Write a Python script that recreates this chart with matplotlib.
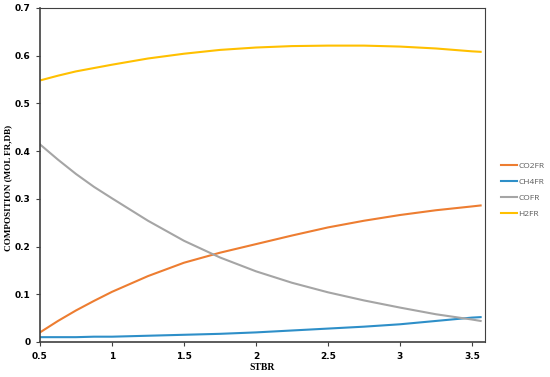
import matplotlib

matplotlib.use("Agg")

import matplotlib.pyplot as plt

stbr = [0.5, 0.625, 0.75, 0.875, 1.0, 1.25, 1.5, 1.75, 2.0, 2.25, 2.5, 2.75, 3.0, 3.25, 3.5, 3.56]
co2fr = [0.020, 0.044, 0.066, 0.086, 0.105, 0.138, 0.166, 0.187, 0.205, 0.223, 0.240, 0.254, 0.266, 0.276, 0.284, 0.286]
ch4fr = [0.010, 0.010, 0.010, 0.011, 0.011, 0.013, 0.015, 0.017, 0.020, 0.024, 0.028, 0.032, 0.037, 0.044, 0.051, 0.052]
cofr = [0.414, 0.382, 0.352, 0.325, 0.301, 0.254, 0.212, 0.177, 0.148, 0.124, 0.104, 0.087, 0.072, 0.058, 0.047, 0.044]
h2fr = [0.548, 0.558, 0.567, 0.574, 0.581, 0.594, 0.604, 0.612, 0.617, 0.620, 0.621, 0.621, 0.619, 0.615, 0.609, 0.608]

series = [
    ("CO2FR", co2fr, "#ED7D31"),
    ("CH4FR", ch4fr, "#2E8FC8"),
    ("COFR", cofr, "#A5A5A5"),
    ("H2FR", h2fr, "#FFC000"),
]

fig = plt.figure(figsize=(5.5, 3.77), dpi=100)
ax = fig.add_axes([0.0727, 0.093, 0.809, 0.886])

for name, vals, color in series:
    ax.plot(stbr, vals, color=color, lw=1.5, label=name)

ax.set_xlim(0.5, 3.59)
ax.set_ylim(0, 0.7)
ax.set_xticks([0.5, 1, 1.5, 2, 2.5, 3, 3.5])
ax.set_xticklabels(["0.5", "1", "1.5", "2", "2.5", "3", "3.5"])
ax.set_yticks([0, 0.1, 0.2, 0.3, 0.4, 0.5, 0.6, 0.7])
ax.set_yticklabels(["0", "0.1", "0.2", "0.3", "0.4", "0.5", "0.6", "0.7"])
ax.tick_params(labelsize=6.5, length=3, width=0.8, colors="#404040", pad=4)
for lbl in ax.get_xticklabels() + ax.get_yticklabels():
    lbl.set_fontweight("bold")
    lbl.set_color("black")

for s in ax.spines.values():
    s.set_color("#404040")
    s.set_linewidth(0.8)
ax.spines["left"].set_linewidth(1.2)
ax.spines["bottom"].set_linewidth(1.2)

ax.set_xlabel("STBR", family="Liberation Serif", fontweight="bold", fontsize=7, labelpad=2)
ax.set_ylabel("COMPOSITION (MOL FR,DB)", family="Liberation Serif", fontweight="bold",
              fontsize=6.6, labelpad=5)
ax.yaxis.set_label_coords(-0.062, 0.46)

leg = ax.legend(loc="center left", bbox_to_anchor=(1.035, 0.455), frameon=False,
                prop={"family": "Open Sans", "size": 6}, handlelength=2.0,
                handletextpad=0.15, labelspacing=0.95, borderpad=0, borderaxespad=0)
for t in leg.get_texts():
    t.set_color("#595959")

fig.savefig("out.png", dpi=100)
